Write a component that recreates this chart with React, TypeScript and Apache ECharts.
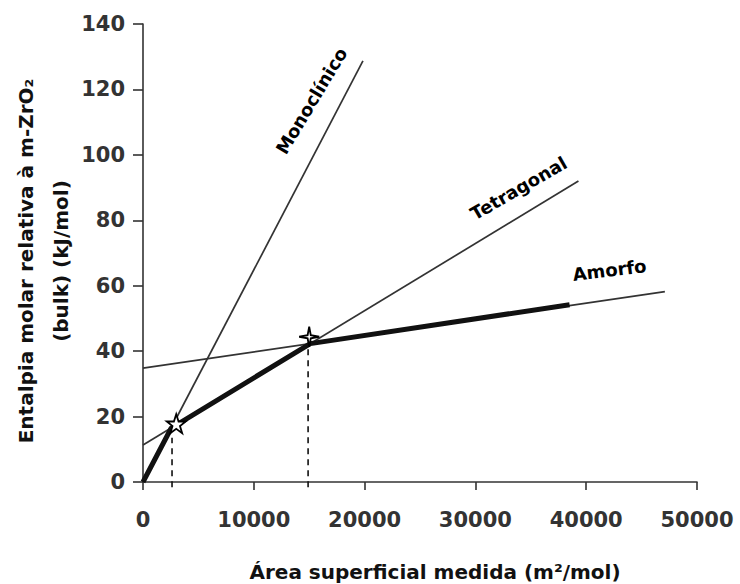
import React, { useEffect, useRef } from "react";
import * as echarts from "echarts";

const xTicks = [0, 10000, 20000, 30000, 40000, 50000];
const yTicks = [0, 20, 40, 60, 80, 100, 120, 140];

const monoclinico: [number, number][] = [[0, 0], [19850, 128.7]];
const tetragonal: [number, number][] = [[0, 11.3], [39300, 92]];
const amorfo: [number, number][] = [[0, 34.8], [47100, 58.2]];
const envelope: [number, number][] = [[0, 0], [2550, 16.5], [15100, 42.3], [38500, 54.2]];
const dashed1: [number, number][] = [[2620, -1.6], [2620, 13.5]];
const dashed2: [number, number][] = [[14900, -1.6], [14900, 42.5]];
const star5: [number, number][] = [[3000, 17.8]];
const star4: [number, number][] = [[15000, 44.4]];
const labelNames = ["Monoclínico", "Tetragonal", "Amorfo"];
const labelPos: [number, number][] = [[15200, 116.5], [33900, 89.8], [42100, 64.8]];
const labelRot = [59, 30, 7];

const FONT = "DejaVu Sans";
const STAR5 = "path://M50,0 L61.8,34.5 L98,34.5 L68.9,56 L79.9,90.5 L50,69.5 L20.1,90.5 L31.1,56 L2,34.5 L38.2,34.5 Z";
const STAR4 = "path://M50,0 L58,42 L100,50 L58,58 L50,100 L42,58 L0,50 L42,42 Z";

export default function App() {
  const ref = useRef<HTMLDivElement>(null);
  useEffect(() => {
    if (!ref.current) return;
    const chart = echarts.init(ref.current, undefined, { renderer: "svg" });
    const thin = (data: [number, number][]) => ({
      type: "line",
      data,
      symbol: "none",
      lineStyle: { color: "#333", width: 1.7 },
      silent: true,
      z: 2,
    });
    chart.setOption({
      animation: false,
      backgroundColor: "#ffffff",
      grid: { left: 143, right: 43, top: 24, bottom: 102, containLabel: false, outerBoundsMode: "none" },
      xAxis: {
        type: "value",
        min: xTicks[0],
        max: xTicks[xTicks.length - 1],
        interval: 10000,
        name: "Área superficial medida (m²/mol)",
        nameLocation: "middle",
        nameGap: 80,
        nameMoveOverlap: false,
        nameTextStyle: { fontFamily: FONT, fontWeight: "bold", fontSize: 20, color: "#111", padding: [0, 0, 0, 30] },
        axisLine: { lineStyle: { color: "#333", width: 1.6 } },
        axisTick: { show: true, length: 8, lineStyle: { color: "#333", width: 1.6 } },
        axisLabel: { fontFamily: FONT, fontWeight: "bold", fontSize: 21, color: "#333", margin: 27, formatter: (v: number) => String(v) },
        splitLine: { show: false },
      },
      yAxis: {
        type: "value",
        min: yTicks[0],
        max: yTicks[yTicks.length - 1],
        interval: 20,
        name: "Entalpia molar relativa à m-ZrO₂\n(bulk) (kJ/mol)",
        nameLocation: "middle",
        nameRotate: 90,
        nameGap: 65,
        nameMoveOverlap: false,
        nameTextStyle: { fontFamily: FONT, fontWeight: "bold", fontSize: 20, color: "#111", lineHeight: 35, padding: [0, 16, 0, 0] },
        axisLine: { show: true, lineStyle: { color: "#333", width: 1.6 } },
        axisTick: { show: true, length: 10, lineStyle: { color: "#333", width: 1.6 } },
        axisLabel: { fontFamily: FONT, fontWeight: "bold", fontSize: 21, color: "#333", margin: 18, formatter: (v: number) => String(v) },
        splitLine: { show: false },
      },
      series: [
        { ...thin(monoclinico), name: "Monoclínico" },
        { ...thin(tetragonal), name: "Tetragonal" },
        { ...thin(amorfo), name: "Amorfo" },
        {
          type: "line",
          name: "envelope",
          data: envelope,
          symbol: "none",
          lineStyle: { color: "#111", width: 5 },
          z: 3,
        },
        {
          type: "line",
          data: dashed1,
          symbol: "none",
          clip: false,
          lineStyle: { color: "#111", width: 1.6, type: [6, 5] },
          z: 3,
        },
        {
          type: "line",
          data: dashed2,
          symbol: "none",
          clip: false,
          lineStyle: { color: "#111", width: 1.6, type: [6, 5] },
          z: 3,
        },
        {
          type: "scatter",
          data: star5,
          symbol: STAR5,
          symbolSize: 19,
          itemStyle: { color: "#fff", borderColor: "#000", borderWidth: 1.8, opacity: 1 },
          z: 5,
        },
        {
          type: "scatter",
          data: star4,
          symbol: STAR4,
          symbolSize: 20,
          itemStyle: { color: "#fff", borderColor: "#000", borderWidth: 1.8, opacity: 1 },
          z: 5,
        },
        {
          type: "scatter",
          symbolSize: 1,
          itemStyle: { color: "rgba(0,0,0,0)", opacity: 1 },
          silent: true,
          z: 6,
          data: labelNames.map((n, i) => ({
            value: labelPos[i],
            name: n,
            label: {
              show: true,
              formatter: n,
              position: "inside",
              rotate: labelRot[i],
              fontFamily: FONT,
              fontWeight: "bold",
              fontSize: 18,
              color: "#000",
              opacity: 1,
              textBorderWidth: 0,
            },
          })),
        },
      ],
    });
    return () => chart.dispose();
  }, []);
  return <div ref={ref} style={{ position: "absolute", left: 0, top: 0, width: 740, height: 584 }} />;
}
